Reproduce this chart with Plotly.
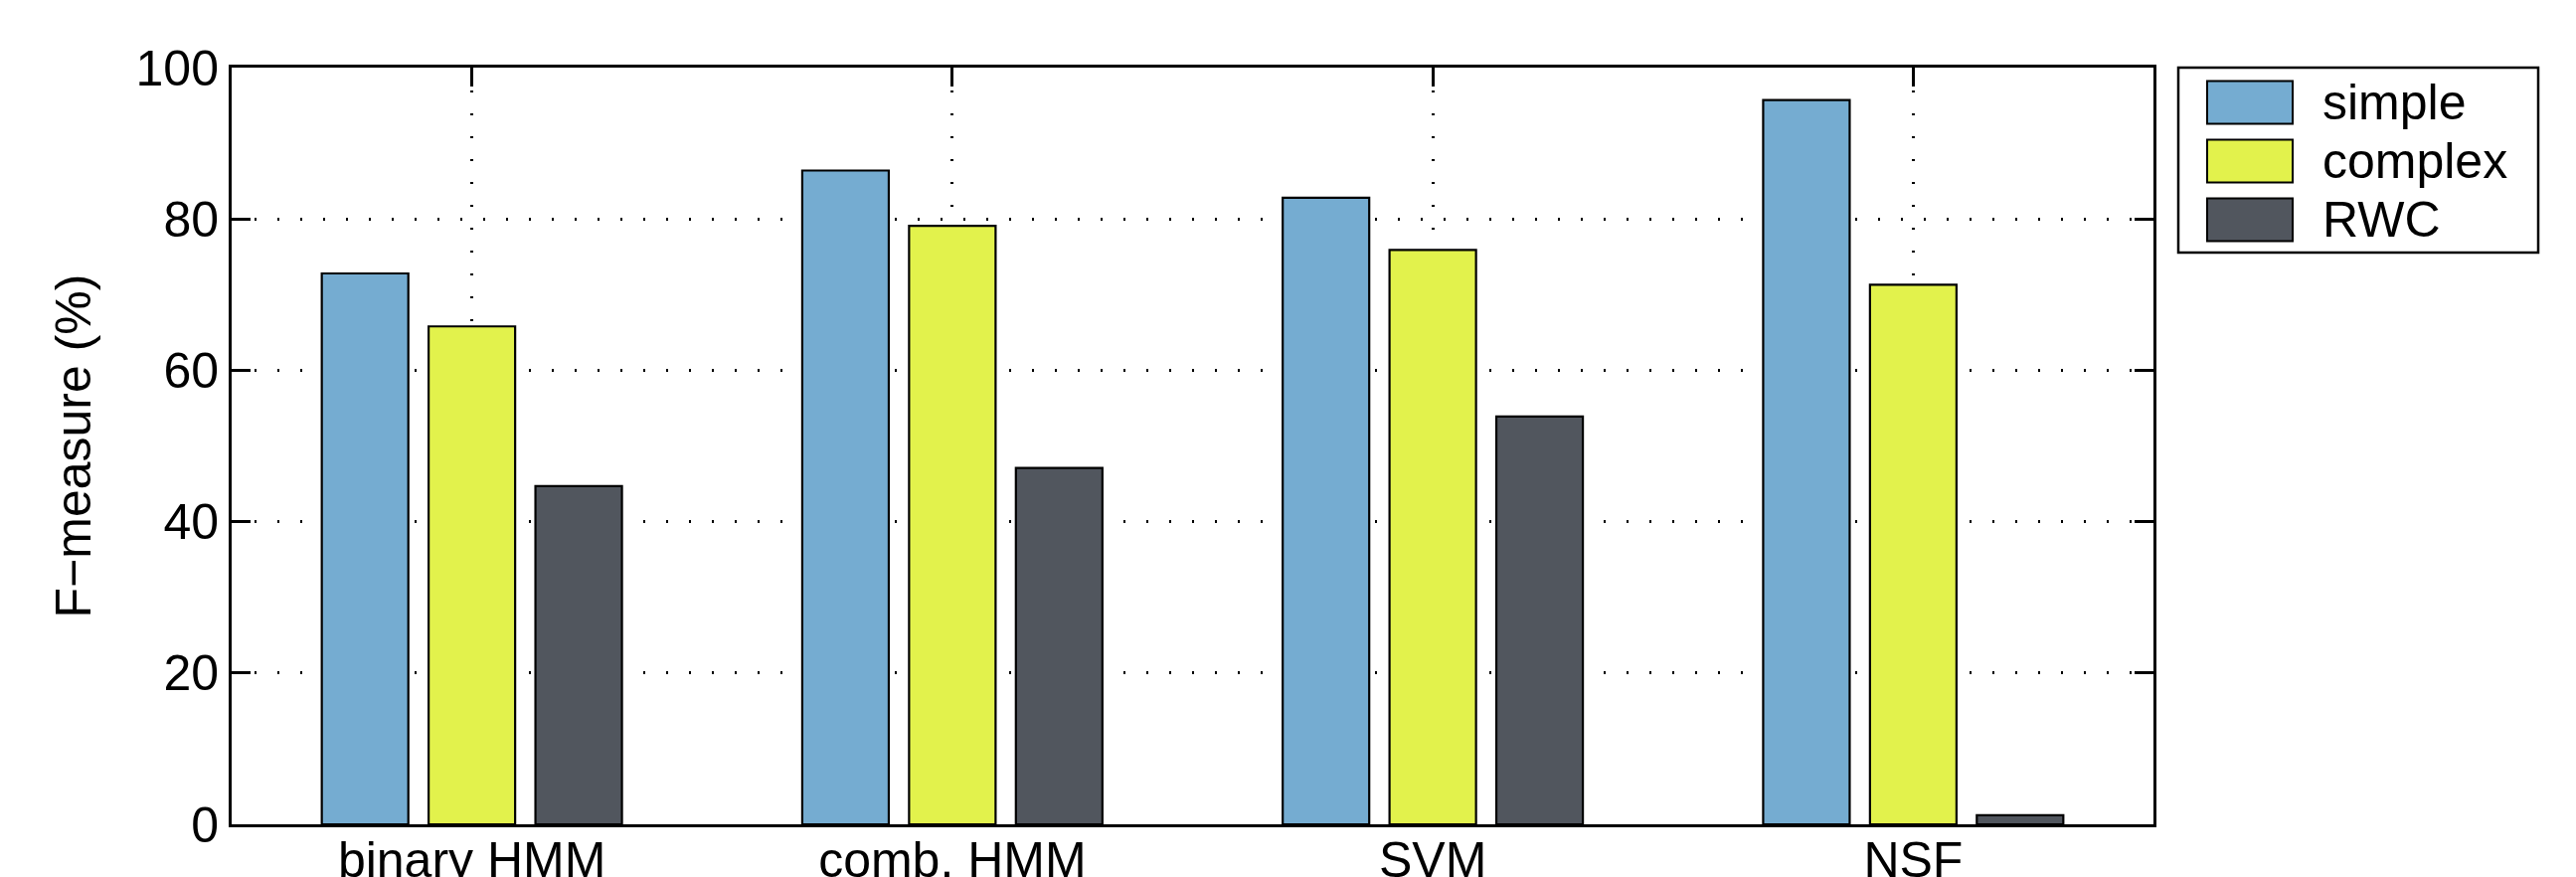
import plotly.graph_objects as go

# ---- data ----
categories = ["binary HMM", "comb. HMM", "SVM", "NSF"]
series_names = ["simple", "complex", "RWC"]
simple_vals = [72.8, 86.4, 82.8, 95.7]
complex_vals = [65.8, 79.1, 75.9, 71.3]
rwc_vals = [44.7, 47.1, 53.9, 1.2]
y_ticks = [0, 20, 40, 60, 80, 100]

# ---- style ----
colors = ["#75ACD1", "#E2F24C", "#51565E"]
FONT = "Liberation Sans, Arial, Helvetica, sans-serif"
FS = 50

W, H = 2591, 882
L, R, T, B = 225, 2591 - 2158, 60, 882 - 821
pw, ph = W - L - R, H - T - B

fig = go.Figure()
for name, vals, col in zip(series_names, [simple_vals, complex_vals, rwc_vals], colors):
    fig.add_trace(go.Bar(
        x=categories, y=vals, name=name,
        marker=dict(color=col, line=dict(color="black", width=2.2)),
        showlegend=False,
    ))

fig.update_layout(
    width=W, height=H,
    margin=dict(l=L, r=R, t=T, b=B, autoexpand=False),
    paper_bgcolor="white", plot_bgcolor="white",
    barmode="group", bargap=0.333, bargroupgap=0.19,
    font=dict(family=FONT, size=FS, color="black"),
)

fig.update_xaxes(
    range=[-0.5, 3.5], showline=True, linecolor="black", linewidth=3,
    mirror="ticks", ticks="inside", ticklen=19, tickwidth=2.5, tickcolor="black",
    showgrid=True, gridcolor="black", gridwidth=2.5, griddash="2px,21px",
    tickfont=dict(size=FS), automargin=False, layer="below traces",
    ticklabelstandoff=-10,
)
fig.update_yaxes(
    range=[0, 100], tickvals=y_ticks, showline=True, linecolor="black", linewidth=3,
    mirror="ticks", ticks="inside", ticklen=19, tickwidth=2.5, tickcolor="black",
    showgrid=True, gridcolor="black", gridwidth=2.5, griddash="2px,21px",
    zeroline=False, tickfont=dict(size=FS), automargin=False,
    title=dict(text="F\u2212measure (%)", font=dict(size=FS), standoff=30),
    ticklabelstandoff=0,
)

# ---- legend (drawn as a framed box like the original) ----
def px_x(p):
    return (p - L) / pw

def px_y(p):
    return (H - B - p) / ph

shapes = [dict(type="rect", xref="paper", yref="paper",
               x0=px_x(2183), x1=px_x(2545), y0=px_y(246), y1=px_y(60),
               line=dict(color="black", width=2.5), fillcolor="white", layer="above")]
annotations = []
row_centers = [95, 154, 213]
for name, col, cy in zip(series_names, colors, row_centers):
    shapes.append(dict(type="rect", xref="paper", yref="paper",
                       x0=px_x(2212), x1=px_x(2298), y0=px_y(cy + 21.5), y1=px_y(cy - 21.5),
                       line=dict(color="black", width=2), fillcolor=col, layer="above"))
    annotations.append(dict(xref="paper", yref="paper", x=px_x(2326), y=px_y(cy),
                            text=name, showarrow=False, xanchor="left", yanchor="middle",
                            font=dict(size=FS, family=FONT, color="black")))
fig.update_layout(shapes=shapes, annotations=annotations)

fig.write_html("out.html")
